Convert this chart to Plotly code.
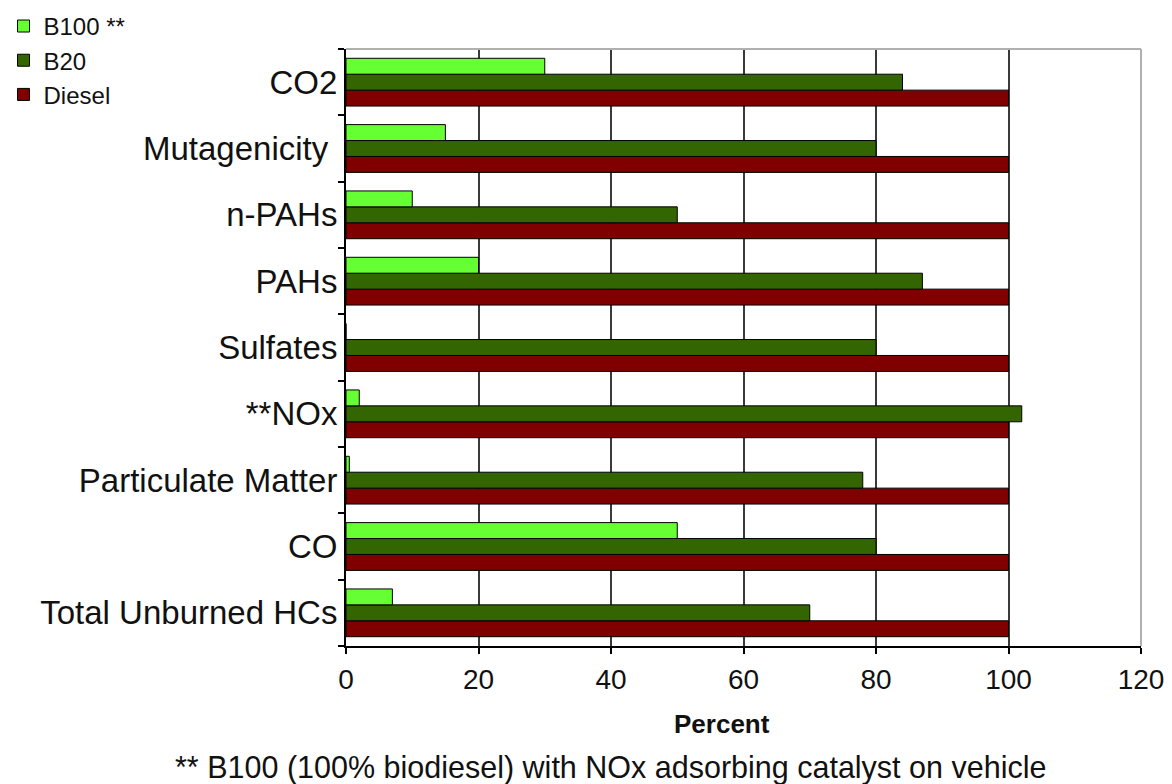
import plotly.graph_objects as go

categories = ["Total Unburned HCs", "CO", "Particulate Matter", "**NOx", "Sulfates",
              "PAHs", "n-PAHs", "Mutagenicity ", "CO2"]
b100 = [7, 50, 0.5, 2, 0, 20, 10, 15, 30]
b20 = [70, 80, 78, 102, 80, 87, 50, 80, 84]
diesel = [100, 100, 100, 100, 100, 100, 100, 100, 100]
x_ticks = [0, 20, 40, 60, 80, 100, 120]

FONT = "Liberation Sans, Arial, sans-serif"

fig = go.Figure()
fig.add_trace(go.Bar(y=categories, x=diesel, name="Diesel", orientation="h",
                     marker=dict(color="#800000", line=dict(color="#000000", width=1))))
fig.add_trace(go.Bar(y=categories, x=b20, name="B20", orientation="h",
                     marker=dict(color="#336600", line=dict(color="#000000", width=1))))
fig.add_trace(go.Bar(y=categories, x=b100, name="B100 **", orientation="h",
                     marker=dict(color="#66ff33", line=dict(color="#000000", width=1))))

fig.update_layout(
    width=1172, height=784,
    margin=dict(l=346, r=31, t=49, b=138, autoexpand=False),
    paper_bgcolor="white", plot_bgcolor="white",
    barmode="group", bargap=0.28, bargroupgap=0,
    font=dict(family=FONT, color="#111111"),
    showlegend=True,
    legend=dict(xref="container", yref="container", x=0.003, y=0.995,
                xanchor="left", yanchor="top", traceorder="reversed",
                font=dict(size=24, family=FONT), bgcolor="rgba(0,0,0,0)",
                itemwidth=30, tracegroupgap=0),
    xaxis=dict(range=[0, 120], tickvals=x_ticks, showgrid=True, gridcolor="#3a3a3a",
               gridwidth=2, showline=True, linecolor="#000000", linewidth=2,
               ticks="outside", ticklen=6, tickcolor="#000000", tickwidth=2,
               tickfont=dict(size=28, family=FONT), ticklabelstandoff=1,
               zeroline=False, fixedrange=True, automargin=False),
    yaxis=dict(type="category", tickson="boundaries", ticks="outside", ticklen=6,
               tickcolor="#000000", tickwidth=2, showline=True, linecolor="#000000",
               linewidth=2, showgrid=False, tickfont=dict(size=33, family=FONT),
               ticklabelstandoff=0, fixedrange=True, automargin=False),
    shapes=[
        dict(type="line", xref="paper", yref="paper", x0=0, x1=1, y0=1, y1=1,
             line=dict(color="#b0b0b0", width=2), layer="above"),
        dict(type="line", xref="paper", yref="paper", x0=1, x1=1, y0=0, y1=1,
             line=dict(color="#b0b0b0", width=2), layer="above"),
    ],
    annotations=[
        dict(text="<b>Percent</b>", xref="paper", yref="paper", x=0.473, y=-0.131,
             xanchor="center", yanchor="middle", showarrow=False,
             font=dict(size=26, family=FONT)),
        dict(text="** B100 (100% biodiesel) with NOx adsorbing catalyst on vehicle",
             xref="paper", yref="paper", x=0.333, y=-0.204, xanchor="center",
             yanchor="middle", showarrow=False, font=dict(size=30.5, family=FONT)),
    ],
)

fig.write_html("out.html")
